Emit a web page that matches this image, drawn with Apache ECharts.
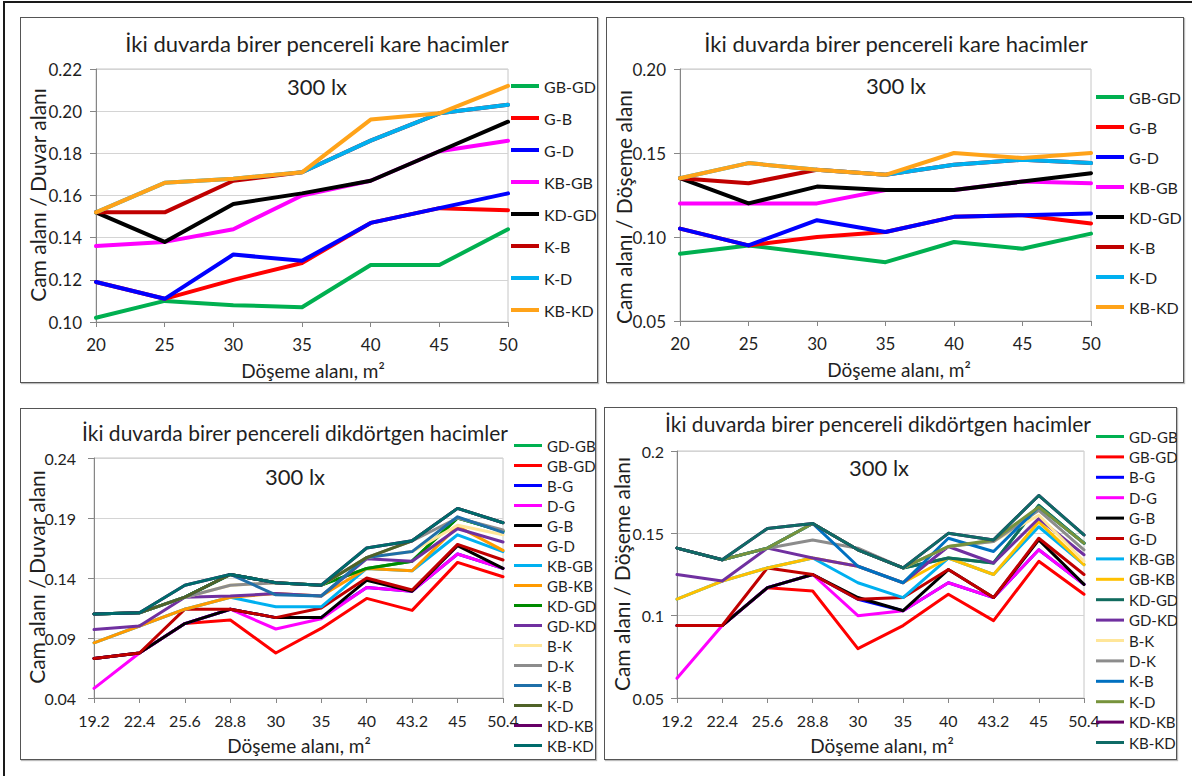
<!DOCTYPE html>
<html>
<head>
<meta charset="utf-8">
<script src="https://cdn.jsdelivr.net/npm/echarts@6/dist/echarts.min.js"></script>
<style>
  html, body { margin: 0; padding: 0; background: #fff; }
  #page { position: relative; width: 1192px; height: 776px; overflow: hidden; background: #fff; }
  .outer { position: absolute; left: 3px; top: 1px; width: 1400px; height: 900px;
           border-left: 2px solid #1a1a1a; border-top: 2px solid #1a1a1a; }
  .panel { position: absolute; box-sizing: border-box; border: 1.5px solid #555;
           box-shadow: 1px 1px 1px #bbb; }
  .chart { position: absolute; }
</style>
</head>
<body>
<div id="page">
  <div class="outer"></div>
  <div class="panel" style="left:20px;top:17px;width:578px;height:366px"></div>
  <div class="panel" style="left:606px;top:17px;width:578px;height:366px"></div>
  <div class="panel" style="left:20px;top:408px;width:576px;height:352px"></div>
  <div class="panel" style="left:604px;top:407px;width:573px;height:353px"></div>
  <div id="kareDuvar" class="chart" style="left:20px;top:17px;width:578px;height:366px"></div>
  <div id="kareDoseme" class="chart" style="left:606px;top:17px;width:578px;height:366px"></div>
  <div id="dikDuvar" class="chart" style="left:20px;top:408px;width:576px;height:352px"></div>
  <div id="dikDoseme" class="chart" style="left:604px;top:407px;width:573px;height:353px"></div>
</div>
<script>
// ---- Döşeme alanları (m²) ----
const kategoriKare = ['20', '25', '30', '35', '40', '45', '50'];
const kategoriDikdortgen = ['19.2', '22.4', '25.6', '28.8', '30', '35', '40', '43.2', '45', '50.4'];

// ---- Y ekseni bölmeleri ----
const ticksKareDuvar = [0.10, 0.12, 0.14, 0.16, 0.18, 0.20, 0.22];
const ticksKareDoseme = [0.05, 0.10, 0.15, 0.20];
const ticksDikDuvar = [0.04, 0.09, 0.14, 0.19, 0.24];
const ticksDikDoseme = [0.05, 0.1, 0.15, 0.2];

// ---- Seri adları ----
const seriKare = ['GB-GD', 'G-B', 'G-D', 'KB-GB', 'KD-GD', 'K-B', 'K-D', 'KB-KD'];
const seriDikdortgen = ['GD-GB', 'GB-GD', 'B-G', 'D-G', 'G-B', 'G-D', 'KB-GB', 'GB-KB',
                        'KD-GD', 'GD-KD', 'B-K', 'D-K', 'K-B', 'K-D', 'KD-KB', 'KB-KD'];

// ---- Kare hacimler: cam alanı / duvar alanı ----
const kDuvar_GB_GD = [0.102, 0.110, 0.108, 0.107, 0.127, 0.127, 0.144];
const kDuvar_G_B   = [0.119, 0.111, 0.120, 0.128, 0.147, 0.154, 0.153];
const kDuvar_G_D   = [0.119, 0.111, 0.132, 0.129, 0.147, 0.154, 0.161];
const kDuvar_KB_GB = [0.136, 0.138, 0.144, 0.160, 0.167, 0.181, 0.186];
const kDuvar_KD_GD = [0.152, 0.138, 0.156, 0.161, 0.167, 0.181, 0.195];
const kDuvar_K_B   = [0.152, 0.152, 0.167, 0.171, 0.186, 0.199, 0.203];
const kDuvar_K_D   = [0.152, 0.166, 0.168, 0.171, 0.186, 0.199, 0.203];
const kDuvar_KB_KD = [0.152, 0.166, 0.168, 0.171, 0.196, 0.199, 0.212];

// ---- Kare hacimler: cam alanı / döşeme alanı ----
const kDoseme_GB_GD = [0.090, 0.095, 0.090, 0.085, 0.097, 0.093, 0.102];
const kDoseme_G_B   = [0.105, 0.095, 0.100, 0.103, 0.112, 0.113, 0.108];
const kDoseme_G_D   = [0.105, 0.095, 0.110, 0.103, 0.112, 0.113, 0.114];
const kDoseme_KB_GB = [0.120, 0.120, 0.120, 0.128, 0.128, 0.133, 0.132];
const kDoseme_KD_GD = [0.135, 0.120, 0.130, 0.128, 0.128, 0.133, 0.138];
const kDoseme_K_B   = [0.135, 0.132, 0.140, 0.137, 0.143, 0.146, 0.144];
const kDoseme_K_D   = [0.135, 0.144, 0.140, 0.137, 0.143, 0.146, 0.144];
const kDoseme_KB_KD = [0.135, 0.144, 0.140, 0.137, 0.150, 0.147, 0.150];

// ---- Dikdörtgen hacimler: cam alanı / duvar alanı ----
const dDuvar_GD_GB = [0.110, 0.111, 0.124, 0.143, 0.136, 0.134, 0.148, 0.154, 0.190, 0.179];
const dDuvar_GB_GD = [0.073, 0.0775, 0.102, 0.105, 0.0775, 0.098, 0.123, 0.113, 0.153, 0.141];
const dDuvar_B_G   = [0.073, 0.0775, 0.102, 0.114, 0.107, 0.107, 0.132, 0.129, 0.160, 0.148];
const dDuvar_D_G   = [0.048, 0.0775, 0.102, 0.114, 0.0975, 0.106, 0.132, 0.129, 0.160, 0.148];
const dDuvar_G_B   = [0.073, 0.0775, 0.102, 0.114, 0.107, 0.107, 0.138, 0.129, 0.167, 0.148];
const dDuvar_G_D   = [0.073, 0.0775, 0.114, 0.114, 0.107, 0.115, 0.140, 0.130, 0.168, 0.155];
const dDuvar_KB_GB = [0.086, 0.100, 0.114, 0.124, 0.116, 0.116, 0.148, 0.146, 0.176, 0.162];
const dDuvar_GB_KB = [0.086, 0.100, 0.114, 0.124, 0.127, 0.125, 0.148, 0.146, 0.183, 0.163];
const dDuvar_KD_GD = [0.110, 0.111, 0.124, 0.143, 0.136, 0.134, 0.148, 0.154, 0.190, 0.179];
const dDuvar_GD_KD = [0.097, 0.100, 0.124, 0.125, 0.127, 0.125, 0.156, 0.154, 0.181, 0.170];
const dDuvar_B_K   = [0.110, 0.111, 0.124, 0.134, 0.136, 0.134, 0.157, 0.162, 0.184, 0.176];
const dDuvar_D_K   = [0.110, 0.111, 0.124, 0.134, 0.136, 0.134, 0.157, 0.171, 0.190, 0.180];
const dDuvar_K_B   = [0.110, 0.111, 0.124, 0.143, 0.126, 0.125, 0.157, 0.162, 0.191, 0.178];
const dDuvar_K_D   = [0.110, 0.111, 0.124, 0.143, 0.136, 0.134, 0.157, 0.171, 0.198, 0.186];
const dDuvar_KD_KB = [0.110, 0.111, 0.134, 0.143, 0.136, 0.134, 0.165, 0.171, 0.198, 0.186];
const dDuvar_KB_KD = [0.110, 0.111, 0.134, 0.143, 0.136, 0.134, 0.165, 0.171, 0.198, 0.186];

// ---- Dikdörtgen hacimler: cam alanı / döşeme alanı ----
const dDoseme_GD_GB = [0.141, 0.134, 0.141, 0.156, 0.140, 0.129, 0.135, 0.132, 0.167, 0.144];
const dDoseme_GB_GD = [0.094, 0.094, 0.117, 0.115, 0.080, 0.094, 0.113, 0.097, 0.133, 0.113];
const dDoseme_B_G   = [0.094, 0.094, 0.117, 0.125, 0.110, 0.103, 0.120, 0.111, 0.140, 0.119];
const dDoseme_D_G   = [0.062, 0.094, 0.117, 0.125, 0.100, 0.103, 0.120, 0.111, 0.140, 0.119];
const dDoseme_G_B   = [0.094, 0.094, 0.117, 0.125, 0.111, 0.103, 0.128, 0.111, 0.146, 0.119];
const dDoseme_G_D   = [0.094, 0.094, 0.129, 0.125, 0.110, 0.111, 0.128, 0.111, 0.147, 0.125];
const dDoseme_KB_GB = [0.110, 0.121, 0.129, 0.135, 0.120, 0.111, 0.135, 0.125, 0.154, 0.131];
const dDoseme_GB_KB = [0.110, 0.121, 0.129, 0.135, 0.130, 0.120, 0.135, 0.125, 0.157, 0.131];
const dDoseme_KD_GD = [0.141, 0.134, 0.141, 0.156, 0.140, 0.129, 0.135, 0.132, 0.167, 0.144];
const dDoseme_GD_KD = [0.125, 0.121, 0.141, 0.135, 0.130, 0.120, 0.142, 0.132, 0.159, 0.137];
const dDoseme_B_K   = [0.141, 0.134, 0.141, 0.156, 0.140, 0.129, 0.142, 0.145, 0.161, 0.133];
const dDoseme_D_K   = [0.141, 0.134, 0.141, 0.146, 0.141, 0.129, 0.142, 0.145, 0.164, 0.140];
const dDoseme_K_B   = [0.141, 0.134, 0.141, 0.156, 0.130, 0.120, 0.147, 0.139, 0.166, 0.144];
const dDoseme_K_D   = [0.141, 0.134, 0.141, 0.156, 0.140, 0.129, 0.142, 0.146, 0.166, 0.144];
const dDoseme_KD_KB = [0.141, 0.134, 0.153, 0.156, 0.140, 0.129, 0.150, 0.146, 0.173, 0.149];
const dDoseme_KB_KD = [0.141, 0.134, 0.153, 0.156, 0.140, 0.129, 0.150, 0.146, 0.173, 0.149];

// ---- Renkler ----
const renkKare = ['#00B050', '#FF0000', '#0000FF', '#FF00FF', '#000000', '#C00000', '#00B0F0', '#FFA319'];
const renkDikDuvar = ['#00B050', '#FF0000', '#0000FF', '#FF00FF', '#000000', '#C00000', '#00B0F0', '#FF9A00',
                      '#008A00', '#7030A0', '#FFE699', '#8C8C8C', '#1F6FA8', '#4F6228', '#660066', '#006B6B'];
const renkDikDoseme = ['#00B050', '#FF0000', '#0000FF', '#FF00FF', '#000000', '#C00000', '#00B0F0', '#FFC000',
                       '#116B5E', '#7030A0', '#FFE699', '#8C8C8C', '#0070C0', '#77933C', '#660066', '#0F6B66'];

const FONT = 'Lato, "Open Sans", sans-serif';
const INK = '#1f1f1f';

function text(x, y, str, size, rot) {
  return {
    type: 'text', x: x, y: y, rotation: rot || 0,
    style: { text: str, fill: INK, font: size + 'px ' + FONT, align: 'center', verticalAlign: 'middle' }
  };
}

function drawPanel(id, p) {
  const chart = echarts.init(document.getElementById(id), null, { renderer: 'svg' });
  const t = p.ticks;
  const step = Math.round((t[1] - t[0]) * 1000) / 1000;
  chart.setOption({
    animation: false,
    textStyle: { fontFamily: FONT, color: INK },
    grid: { left: p.grid[0], top: p.grid[1], width: p.grid[2], height: p.grid[3],
            show: true, borderColor: '#c6c6c6', borderWidth: 1, backgroundColor: 'transparent' },
    graphic: [
      text(p.title[0], p.title[1], p.titleText, p.titleSize),
      text(p.lux[0], p.lux[1], '300 lx', 22),
      text(p.xName[0], p.xName[1], 'Döşeme alanı, m²', 19),
      text(p.yName[0], p.yName[1], p.yNameText, 21, Math.PI / 2)
    ],
    legend: {
      orient: 'vertical', left: p.legend[0], top: p.legend[1], itemGap: p.legend[2],
      itemWidth: 28, itemHeight: p.lw, icon: 'rect', padding: 0, selectedMode: false,
      textStyle: { fontSize: p.legendSize, lineHeight: p.legendSize + 2, color: INK, fontFamily: FONT },
      data: p.names
    },
    xAxis: {
      type: 'category', boundaryGap: false, data: p.categories,
      axisLine: { lineStyle: { color: '#868686', width: 1 } },
      axisTick: { show: true, length: 5, lineStyle: { color: '#868686' } },
      axisLabel: { fontSize: p.tickSize, color: INK, margin: p.xMargin, fontFamily: FONT, interval: 0 },
      splitLine: { show: false }
    },
    yAxis: {
      type: 'value', min: t[0], max: t[t.length - 1], interval: step,
      axisLine: { show: true, lineStyle: { color: '#868686', width: 1 } },
      axisTick: { show: true, length: 6, lineStyle: { color: '#868686' } },
      axisLabel: { fontSize: p.tickSize, color: INK, margin: p.yMargin, fontFamily: FONT,
                   formatter: p.fmt },
      splitLine: { show: true, lineStyle: { color: '#d4d4d4', width: 1 } }
    },
    series: p.names.map(function (n, i) {
      return {
        name: n, type: 'line', data: p.values[i], symbol: 'none', showSymbol: false,
        lineStyle: { color: p.colors[i], width: p.lw, join: 'round', cap: 'round' },
        itemStyle: { color: p.colors[i] },
        emphasis: { disabled: true }
      };
    })
  });
}

const fix2 = function (v) { return v.toFixed(2); };
const trim = function (v) { return String(Number(v.toFixed(2))); };

drawPanel('kareDuvar', {
  categories: kategoriKare, ticks: ticksKareDuvar, names: seriKare, colors: renkKare, lw: 4,
  values: [kDuvar_GB_GD, kDuvar_G_B, kDuvar_G_D, kDuvar_KB_GB, kDuvar_KD_GD, kDuvar_K_B, kDuvar_K_D, kDuvar_KB_KD],
  grid: [76, 52, 412, 253], titleText: 'İki duvarda birer pencereli kare hacimler', titleSize: 22,
  title: [297, 26], lux: [297, 69], xName: [293, 353], yName: [17, 178], yNameText: 'Cam alanı / Duvar alanı',
  legend: [491, 60, 14], legendSize: 16, tickSize: 17, xMargin: 14, yMargin: 14, fmt: fix2
});

drawPanel('kareDoseme', {
  categories: kategoriKare, ticks: ticksKareDoseme, names: seriKare, colors: renkKare, lw: 4,
  values: [kDoseme_GB_GD, kDoseme_G_B, kDoseme_G_D, kDoseme_KB_GB, kDoseme_KD_GD, kDoseme_K_B, kDoseme_K_D, kDoseme_KB_KD],
  grid: [74, 52, 411, 252], titleText: 'İki duvarda birer pencereli kare hacimler', titleSize: 22,
  title: [290, 26], lux: [290, 68], xName: [293, 352], yName: [17, 190], yNameText: 'Cam alanı / Döşeme alanı',
  legend: [490, 71, 12], legendSize: 16, tickSize: 17, xMargin: 14, yMargin: 14, fmt: fix2
});

drawPanel('dikDuvar', {
  categories: kategoriDikdortgen, ticks: ticksDikDuvar, names: seriDikdortgen, colors: renkDikDuvar, lw: 3,
  values: [dDuvar_GD_GB, dDuvar_GB_GD, dDuvar_B_G, dDuvar_D_G, dDuvar_G_B, dDuvar_G_D, dDuvar_KB_GB, dDuvar_GB_KB,
           dDuvar_KD_GD, dDuvar_GD_KD, dDuvar_B_K, dDuvar_D_K, dDuvar_K_B, dDuvar_K_D, dDuvar_KD_KB, dDuvar_KB_KD],
  grid: [74, 50, 409, 240], titleText: 'İki duvarda birer pencereli dikdörtgen hacimler', titleSize: 21,
  title: [275, 24], lux: [275, 68], xName: [279, 337], yName: [16, 169], yNameText: 'Cam alanı / Duvar alanı',
  legend: [494, 29, 3], legendSize: 15, tickSize: 16, xMargin: 14, yMargin: 18, fmt: fix2
});

drawPanel('dikDoseme', {
  categories: kategoriDikdortgen, ticks: ticksDikDoseme, names: seriDikdortgen, colors: renkDikDoseme, lw: 3,
  values: [dDoseme_GD_GB, dDoseme_GB_GD, dDoseme_B_G, dDoseme_D_G, dDoseme_G_B, dDoseme_G_D, dDoseme_KB_GB, dDoseme_GB_KB,
           dDoseme_KD_GD, dDoseme_GD_KD, dDoseme_B_K, dDoseme_D_K, dDoseme_K_B, dDoseme_K_D, dDoseme_KD_KB, dDoseme_KB_KD],
  grid: [73, 44, 407, 247], titleText: 'İki duvarda birer pencereli dikdörtgen hacimler', titleSize: 21,
  title: [274, 16], lux: [275, 60], xName: [278, 338], yName: [17, 167], yNameText: 'Cam alanı / Döşeme alanı',
  legend: [492, 21, 3.4], legendSize: 15, tickSize: 16, xMargin: 14, yMargin: 13, fmt: trim
});
</script>
</body>
</html>
